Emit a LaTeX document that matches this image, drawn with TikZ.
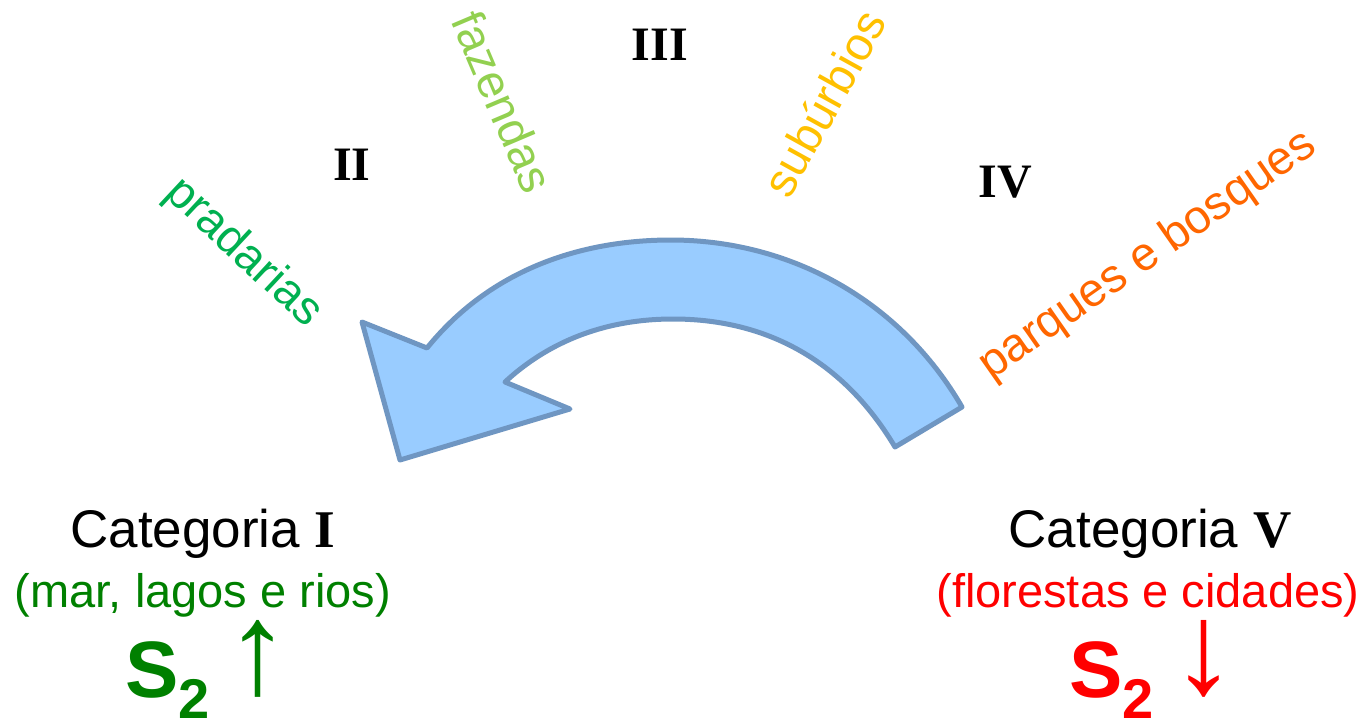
\documentclass[tikz,border=0pt]{standalone}
\usepackage{fontspec}
\setmainfont{Liberation Sans}
\newfontfamily\romanfont{Liberation Serif}
\definecolor{arrowfill}{HTML}{99CCFF}
\definecolor{arrowline}{HTML}{6F96C2}
\definecolor{darkgreen}{HTML}{008000}
\definecolor{meadow}{HTML}{00B050}
\definecolor{lightgreen}{HTML}{92D050}
\definecolor{gold}{HTML}{FFC000}
\definecolor{tangerine}{HTML}{FF6600}
\definecolor{brightred}{HTML}{FF0000}
\tikzset{
  every node/.style={inner sep=0pt, outer sep=0pt},
  bigarrow/.style={fill=arrowfill, draw=arrowline, line width=5pt, line join=round},
  numeral/.style={font=\fontsize{48}{48}\selectfont\romanfont\bfseries, text=black},
  habitat/.style={font=\fontsize{47}{47}\selectfont},
  category/.style={anchor=base, font=\fontsize{53}{53}\selectfont, text=black},
  subtitle/.style={anchor=base, font=\fontsize{47}{47}\selectfont},
  sympart/.style={anchor=base west, font=\fontsize{80}{80}\selectfont\bfseries},
  trend/.style={anchor=base west, font=\fontsize{130}{130}\selectfont\bfseries},
}
\begin{document}
\begin{tikzpicture}[x=1pt,y=-1pt]
\useasboundingbox (0,0) rectangle (1367,721);

% curved arrow running from category V back to category I
\draw[bigarrow] (427,348) .. controls (490,270) and (580,240) .. (671,240)
  .. controls (790,240) and (900,300) .. (962,407)
  -- (895,447)
  .. controls (840,355) and (760,319) .. (673,319)
  .. controls (600,319) and (545,345) .. (505,382)
  -- (570,409) -- (400,460) -- (362,322) -- cycle;

% intermediate categories
\node[numeral] (two) at (352,165) {II};
\node[numeral] (three) at (660,45) {III};
\node[numeral] (four) at (1005,182) {IV};

% habitats along the arc
\node[habitat, text=meadow, rotate=-43] (prad) at (243,253) {pradarias};
\node[habitat, text=lightgreen, rotate=-67] (faz) at (503,102) {fazendas};
\node[habitat, text=gold, rotate=61] (sub) at (824,103) {subúrbios};
\node[habitat, text=tangerine, rotate=35] (parq) at (1148,256) {parques e bosques};

% category I
\node[category] (catI) at (203,547) {Categoria {\romanfont\bfseries I}};
\node[subtitle, text=darkgreen] (descI) at (203,607) {(mar, lagos e rios)};
\node[sympart, text=darkgreen] (sI) at (125,697) {S\raisebox{-21pt}{\fontsize{56}{56}\selectfont 2}};
\node[trend, text=darkgreen] (upI) at (225,693) {↑};

% category V
\node[category] (catV) at (1150,547) {Categoria {\romanfont\bfseries V}};
\node[subtitle, text=brightred] (descV) at (1148,607) {(florestas e cidades)};
\node[sympart, text=brightred] (sV) at (1069,697) {S\raisebox{-21pt}{\fontsize{56}{56}\selectfont 2}};
\node[trend, text=brightred] (downV) at (1171,693) {↓};
\end{tikzpicture}
\end{document}
